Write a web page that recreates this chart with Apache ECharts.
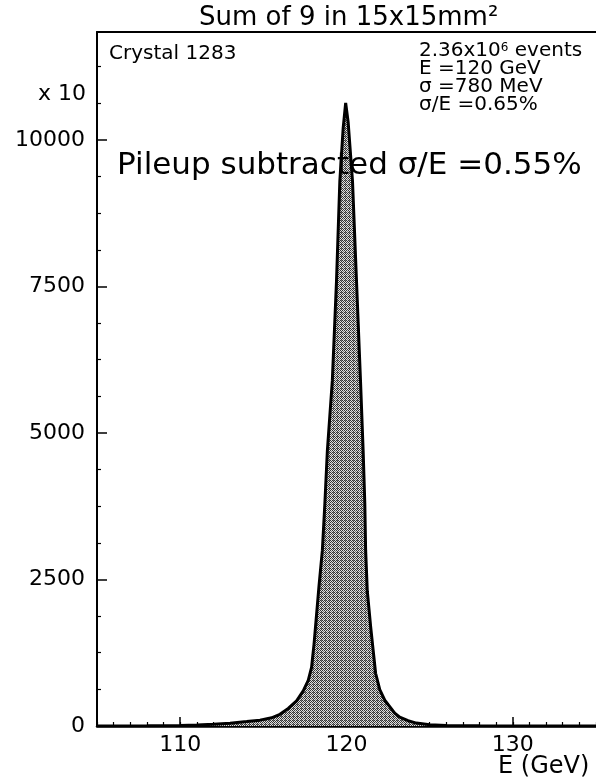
<!DOCTYPE html>
<html>
<head>
<meta charset="utf-8">
<script src="https://cdn.jsdelivr.net/npm/echarts@6/dist/echarts.min.js"></script>
<style>
html,body{margin:0;padding:0;background:#fff;}
#chart{width:596px;height:782px;}
</style>
</head>
<body>
<div id="chart"></div>
<script>
// ---- data ----
const energyGeV = [105, 108, 110, 111, 112, 113, 114, 114.8, 115.5, 116, 116.5, 117, 117.4, 117.7, 117.9, 118.05, 118.2, 118.35, 118.55, 118.7, 118.85, 119.0, 119.15, 119.4, 119.6, 119.8, 119.95, 120.1, 120.36, 120.6, 120.84, 121.0, 121.1, 121.15, 121.25, 121.45, 121.6, 121.75, 122.0, 122.3, 122.6, 122.9, 123.2, 123.7, 124.2, 125, 126, 128, 130, 132, 135];
const countsX10 = [0, 4, 10, 16, 28, 48, 75, 100, 140, 200, 300, 430, 600, 780, 1000, 1400, 1900, 2400, 3000, 3800, 4700, 5300, 5900, 7600, 9300, 10200, 10630, 10300, 9300, 7600, 5900, 4700, 3800, 3000, 2300, 1700, 1300, 900, 620, 440, 330, 220, 150, 90, 50, 20, 10, 4, 2, 1, 0];
const yTicks = [0, 2500, 5000, 7500, 10000];
const xTickLabels = [110, 120, 130];
const titleText = 'Sum of 9 in 15x15mm\u00B2';
const crystalText = 'Crystal 1283';
const infoLines = ['2.36x10{sup|6} events', 'E =120 GeV', '\u03C3 =780 MeV', '\u03C3/E =0.65%'];
const pileupText = 'Pileup subtracted \u03C3/E =0.55%';
const yScaleText = 'x 10';
const xAxisTitle = 'E (GeV)';

// ---- halftone-like fill pattern ----
const pc = document.createElement('canvas');
pc.width = 4; pc.height = 4;
const pctx = pc.getContext('2d');
pctx.fillStyle = '#e0e0e0';
pctx.fillRect(0, 0, 4, 4);
pctx.fillStyle = '#333';
[[0,0],[2,0],[1,1],[3,1],[0,2],[2,2],[1,3],[3,3]].forEach(p => pctx.fillRect(p[0], p[1], 1, 1));
pctx.fillStyle = '#777';
pctx.fillRect(3, 3, 1, 1);
pctx.fillRect(1, 0, 1, 1);

const FONT = 'DejaVu Sans';
const seriesData = energyGeV.map((e, i) => [e, countsX10[i]]);

const chart = echarts.init(document.getElementById('chart'), null, {renderer: 'canvas'});
chart.setOption({
  animation: false,
  backgroundColor: '#fff',
  textStyle: {fontFamily: FONT, color: '#000'},
  grid: {left: 97, top: 32, width: 501, bottom: 56, containLabel: false},
  title: [
    {text: titleText, left: 199, top: 5, padding: 0, textStyle: {fontFamily: FONT, fontSize: 26, fontWeight: 'normal', color: '#000'}},
    {text: crystalText, left: 109, top: 44, padding: 0, textStyle: {fontFamily: FONT, fontSize: 20, fontWeight: 'normal', color: '#000'}},
    {text: infoLines.join('\n'), left: 419, top: 42, padding: 0,
      textStyle: {fontFamily: FONT, fontSize: 20, lineHeight: 18, fontWeight: 'normal', color: '#000',
        rich: {sup: {fontFamily: FONT, fontSize: 12, verticalAlign: 'top', lineHeight: 18, color: '#000', padding: [0,0,8,0]}}}},
    {text: pileupText, left: 117, top: 150, padding: 0, textStyle: {fontFamily: FONT, fontSize: 31, fontWeight: 'normal', color: '#000'}},
    {text: yScaleText, left: 38, top: 83, padding: 0, textStyle: {fontFamily: FONT, fontSize: 22, fontWeight: 'normal', color: '#000'}},
    {text: xAxisTitle, left: 498, top: 755, padding: 0, textStyle: {fontFamily: FONT, fontSize: 24, fontWeight: 'normal', color: '#000'}}
  ],
  xAxis: [
    {
      type: 'value', position: 'bottom', min: 105, max: 135, interval: 1,
      axisLine: {show: true, onZero: false, lineStyle: {color: '#000', width: 2.5}},
      axisTick: {show: true, inside: true, length: 4, lineStyle: {color: '#000', width: 1.2}},
      axisLabel: {show: true, customValues: xTickLabels, margin: 8, fontFamily: FONT, fontSize: 22, color: '#000'},
      splitLine: {show: false}
    },
    {
      type: 'value', position: 'bottom', min: 105, max: 135,
      axisLine: {show: false, onZero: false},
      axisTick: {show: true, inside: true, length: 9, customValues: xTickLabels, lineStyle: {color: '#000', width: 1.5}},
      axisLabel: {show: false},
      splitLine: {show: false}
    },
    {
      type: 'value', position: 'top', min: 105, max: 135,
      axisLine: {show: true, onZero: false, lineStyle: {color: '#000', width: 2}},
      axisTick: {show: false}, axisLabel: {show: false}, splitLine: {show: false}
    }
  ],
  yAxis: [
    {
      type: 'value', min: 0, max: 11840, interval: 2500,
      axisLine: {show: true, onZero: false, lineStyle: {color: '#000', width: 2}},
      axisTick: {show: true, inside: true, length: 10, lineStyle: {color: '#000', width: 1.5}},
      minorTick: {show: true, splitNumber: 4, length: 4, lineStyle: {color: '#000', width: 1.2}},
      axisLabel: {show: true, margin: 12, fontFamily: FONT, fontSize: 22, color: '#000',
        formatter: function (v) { return yTicks.indexOf(v) >= 0 ? String(v) : ''; }},
      splitLine: {show: false}
    }
  ],
  series: [{
    type: 'line',
    xAxisIndex: 0, yAxisIndex: 0,
    data: seriesData,
    showSymbol: false,
    symbol: 'none',
    smooth: false,
    lineStyle: {color: '#000', width: 3},
    areaStyle: {color: {image: pc, repeat: 'repeat'}, opacity: 1},
    z: 3
  }]
});
</script>
</body>
</html>
